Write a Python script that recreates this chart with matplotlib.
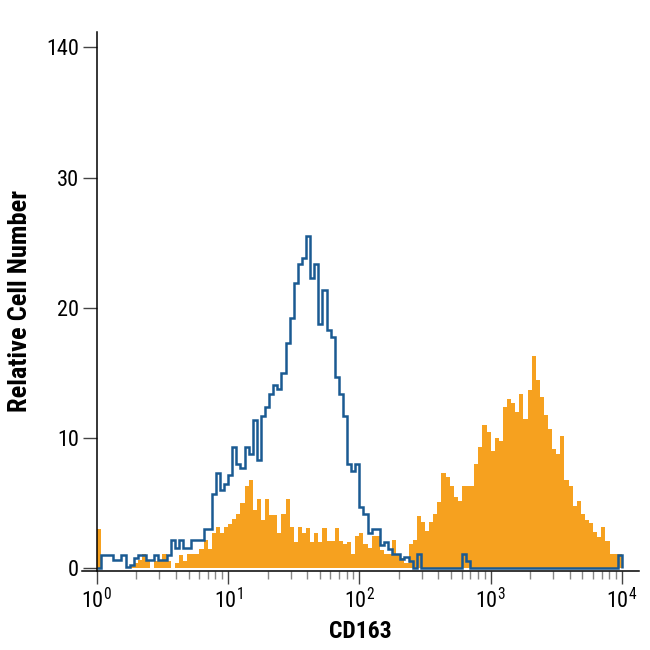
import numpy as np
import matplotlib.pyplot as plt
from matplotlib import font_manager
from matplotlib.ticker import FixedLocator, NullFormatter

# pick a narrow face if one is installed
installed = {f.name for f in font_manager.fontManager.ttflist}
narrow = [n for n in ['Liberation Sans Narrow', 'DejaVu Sans Condensed', 'Roboto Condensed',
                      'Open Sans Condensed', 'Noto Sans Condensed', 'Roboto', 'Lato']
          if n in installed]
family = narrow[0] if narrow else 'DejaVu Sans'
plt.rcParams['font.family'] = [family, 'DejaVu Sans']
plt.rcParams['mathtext.fontset'] = 'custom'
plt.rcParams['mathtext.rm'] = family

# 128 log-spaced channels, 32 per decade, from 10^0 to 10^4
n_bins = 128
edges = 10 ** (np.arange(n_bins + 1) / 32)

# isotype control (blue outline)
isotype = [
    0, 1.0, 1.0, 1.0, 0.65, 0.65, 1.0, 0.1, 0.3, 0.8,
    1.0, 1.0, 0.65, 0.65, 1.0, 0.65, 0.65, 1.0, 2.15, 1.6,
    2.15, 1.6, 1.6, 2.15, 2.15, 2.15, 3.0, 3.0, 5.75, 7.3,
    6.0, 6.5, 7.2, 9.3, 8.0, 7.7, 9.3, 8.8, 11.4, 8.3,
    11.7, 12.4, 13.4, 14.1, 13.8, 15.0, 17.3, 19.2, 21.9, 23.4,
    23.8, 25.5, 22.3, 23.4, 18.8, 21.4, 18.3, 17.8, 14.7, 13.4,
    11.7, 8.0, 7.5, 8.0, 4.7, 4.2, 2.7, 3.0, 3.0, 1.8,
    2.0, 1.5, 1.1, 1.1, 0.75, 0.9, 0.6, 0.0, 1.1, 0.0,
    0, 0, 0, 0, 0, 0, 0, 0, 0, 1.1,
    0.6, 0, 0, 0, 0, 0, 0, 0, 0, 0,
    0, 0, 0, 0, 0, 0, 0, 0, 0, 0,
    0, 0, 0, 0, 0, 0, 0, 0, 0, 0,
    0, 0, 0, 0, 0, 0, 0, 1.0,
]

# CD163 stained cells (orange fill)
cd163 = [
    3.0, 0, 0, 0, 0, 0, 0, 0, 0.3, 0.4,
    0.65, 1.1, 0.6, 0, 0.6, 0.6, 1.1, 0.6, 0, 0.4,
    1.0, 0.6, 1.1, 1.1, 1.1, 1.5, 2.15, 1.5, 2.7, 3.2,
    2.7, 3.2, 3.4, 3.8, 4.2, 5.0, 6.3, 6.8, 4.5, 5.3,
    3.7, 5.3, 4.1, 4.1, 2.7, 4.2, 5.3, 3.2, 2.0, 3.2,
    2.7, 3.1, 2.0, 2.7, 2.0, 3.1, 2.1, 2.1, 3.1, 2.1,
    1.9, 2.0, 1.1, 2.5, 2.7, 1.9, 1.6, 2.5, 2.5, 1.4,
    1.1, 1.1, 2.2, 1.1, 0.8, 0.4, 1.9, 2.2, 4.0, 3.6,
    2.9, 3.6, 4.2, 5.1, 7.3, 7.0, 6.3, 5.5, 5.2, 6.3,
    6.3, 6.3, 8.0, 9.3, 11.0, 10.5, 9.0, 10.0, 9.8, 12.4,
    13.0, 12.7, 12.0, 13.4, 11.5, 13.7, 16.3, 14.5, 13.2, 11.8,
    10.7, 9.2, 8.8, 10.2, 6.8, 6.3, 4.8, 5.2, 4.2, 3.7,
    3.5, 2.8, 2.4, 3.2, 2.1, 1.1, 1.1, 1.1,
]

y_ticks = [0, 10, 20, 30, 40]
y_tick_labels = ['0', '10', '20', '30', '140']
x_ticks = [1, 10, 100, 1000, 10000]
x_tick_labels = [r'$10^0$', r'$10^1$', r'$10^2$', r'$10^3$', r'$10^4$']

fig = plt.figure(figsize=(6.5, 6.5), dpi=100)
ax = fig.add_axes([0.126, 0.1215, 0.857, 0.8295])

ax.stairs(cd163, edges, fill=True, color='#F6A11F', linewidth=0)
ax.stairs(isotype, edges, color='#1A5A92', linewidth=1.8)

ax.set_xscale('log')
ax.set_xlim(10 ** -0.114, 10 ** 4.13)
ax.set_ylim(-0.2, 41.2)

for s in ['top', 'right']:
    ax.spines[s].set_visible(False)
ax.spines['left'].set_position(('data', 1))
ax.spines['left'].set_linewidth(1.1)
ax.spines['bottom'].set_linewidth(1.1)

ax.xaxis.set_major_locator(FixedLocator(x_ticks))
ax.set_xticklabels(x_tick_labels)
minor = [m * 10 ** d for d in range(4) for m in range(2, 10)]
ax.xaxis.set_minor_locator(FixedLocator(minor))
ax.xaxis.set_minor_formatter(NullFormatter())
ax.tick_params(axis='x', which='major', direction='out', length=9, width=1.0,
               color='#444444', labelsize=16, pad=3)
ax.tick_params(axis='x', which='minor', direction='out', length=6, width=1.0,
               color='#888888')

ax.set_yticks(y_ticks)
ax.set_yticklabels(y_tick_labels)
ax.tick_params(axis='y', direction='out', length=10, width=1.0, color='#444444',
               labelsize=16, pad=3)

ax.set_xlabel('CD163', fontsize=17, fontweight='bold', labelpad=5)
ax.set_ylabel('Relative Cell Number', fontsize=19, fontweight='bold', labelpad=10)

fig.savefig('out.png', dpi=100)
